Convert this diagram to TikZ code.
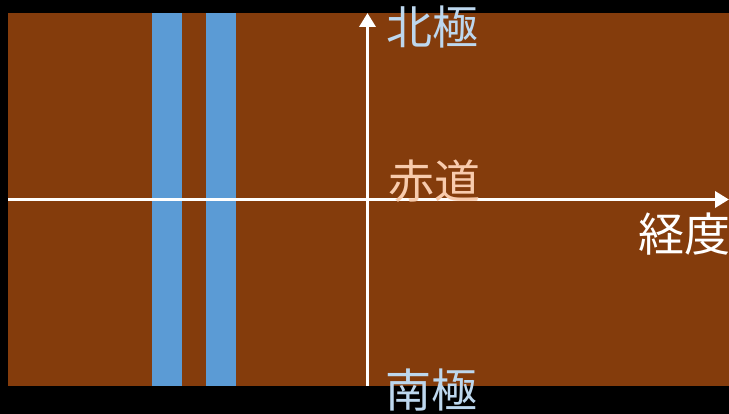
\documentclass[tikz,border=0pt]{standalone}
\usepackage{fontspec}
\newfontfamily\cjk{Noto Sans CJK JP}
\usetikzlibrary{arrows.meta}
\definecolor{earth}{HTML}{843C0C}
\definecolor{stripe}{HTML}{5B9BD5}
\definecolor{polecol}{HTML}{BDD7EE}
\definecolor{eqcol}{HTML}{F8CBAD}
\tikzset{
  axis/.style={draw=white, line width=3.5pt, -{Triangle[length=14pt,width=16pt]}},
  lbl/.style={font=\cjk\fontsize{46}{46}\selectfont, inner sep=0pt, anchor=center},
  band/.style={fill=stripe, draw=none}
}
\begin{document}
\begin{tikzpicture}[x=1pt,y=-1pt]
\fill[black] (0,0) rectangle (729,414);
\useasboundingbox (0,0) rectangle (729,414);
\fill[earth] (8,13) rectangle (729,386);
\fill[band] (152,13) rectangle (182,386);
\fill[band] (206,13) rectangle (236,386);
\coordinate (sbot) at (367.5,386);
\coordinate (ntop) at (367.5,13);
\coordinate (wleft) at (8,199.5);
\coordinate (eright) at (729,199.5);
\draw[axis] (sbot) -- (ntop);
\draw[axis] (wleft) -- (eright);
\begin{scope}
\clip (0,0) rectangle (729,414);
\node[lbl, text=polecol] (north) at (432,27) {北極};
\node[lbl, text=eqcol] (equator) at (434,181) {赤道};
\node[lbl, text=white, anchor=west] (lon) at (638,234) {経度};
\node[lbl, text=polecol] (south) at (431,390) {南極};
\end{scope}
\end{tikzpicture}
\end{document}
